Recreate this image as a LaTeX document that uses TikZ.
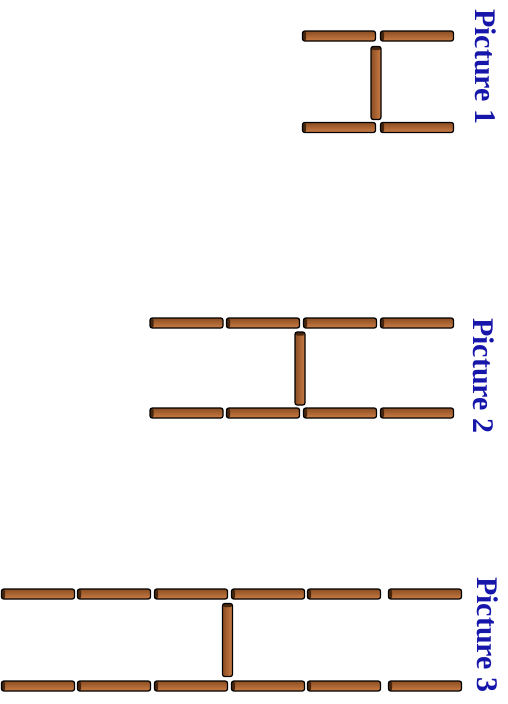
\documentclass[tikz,border=0pt]{standalone}
\usepackage{fontspec}
\newfontfamily\labelfont{Liberation Serif}
\definecolor{stickdark}{RGB}{140,78,34}
\definecolor{stickmid}{RGB}{204,126,70}
\definecolor{sticklight}{RGB}{222,146,90}
\definecolor{stickend}{RGB}{70,38,15}
\definecolor{labelblue}{RGB}{22,22,170}
\begin{document}
\begin{tikzpicture}[x=1pt,y=-1pt,
  stickbase/.style={draw=black, line width=1.2pt, rounded corners=2.2pt,
    inner sep=0pt},
  stick/.style={stickbase, minimum width=73pt, minimum height=10pt,
    top color=stickdark, middle color=sticklight, bottom color=stickmid,
    path picture={\fill[stickend]
      (path picture bounding box.south west) rectangle
      ([xshift=3.5pt]path picture bounding box.north west);}},
  vstick/.style={stickbase, minimum width=10pt, minimum height=73pt,
    left color=stickdark, middle color=sticklight, right color=stickmid,
    path picture={\fill[stickend]
      (path picture bounding box.north west) rectangle
      ([yshift=-3.5pt]path picture bounding box.north east);}},
  picturelabel/.style={rotate=-90, anchor=base west, inner sep=0pt,
    text=labelblue, font=\labelfont\bfseries\fontsize{30}{30}\selectfont}]
\useasboundingbox (0,0) rectangle (508,704);

% Picture 1: two sticks per row
\foreach \x [count=\i] in {339,417} {
  \node[stick] (a-top-\i) at (\x,36) {};
  \node[stick] (a-bot-\i) at (\x,127.5) {};
}
\node[vstick] (a-mid) at (376,83) {};
\node[picturelabel] (a-label) at (475,9) {Picture 1};

% Picture 2: four sticks per row
\foreach \x [count=\i] in {186.5,263,340,417} {
  \node[stick] (b-top-\i) at (\x,323) {};
  \node[stick] (b-bot-\i) at (\x,413) {};
}
\node[vstick] (b-mid) at (300,368.5) {};
\node[picturelabel] (b-label) at (473,318) {Picture 2};

% Picture 3: six sticks per row
\foreach \x [count=\i] in {38,114,191,268,344,425} {
  \node[stick] (c-top-\i) at (\x,594) {};
  \node[stick] (c-bot-\i) at (\x,686) {};
}
\node[vstick] (c-mid) at (227.5,640) {};
\node[picturelabel] (c-label) at (477,577) {Picture 3};
\end{tikzpicture}
\end{document}
